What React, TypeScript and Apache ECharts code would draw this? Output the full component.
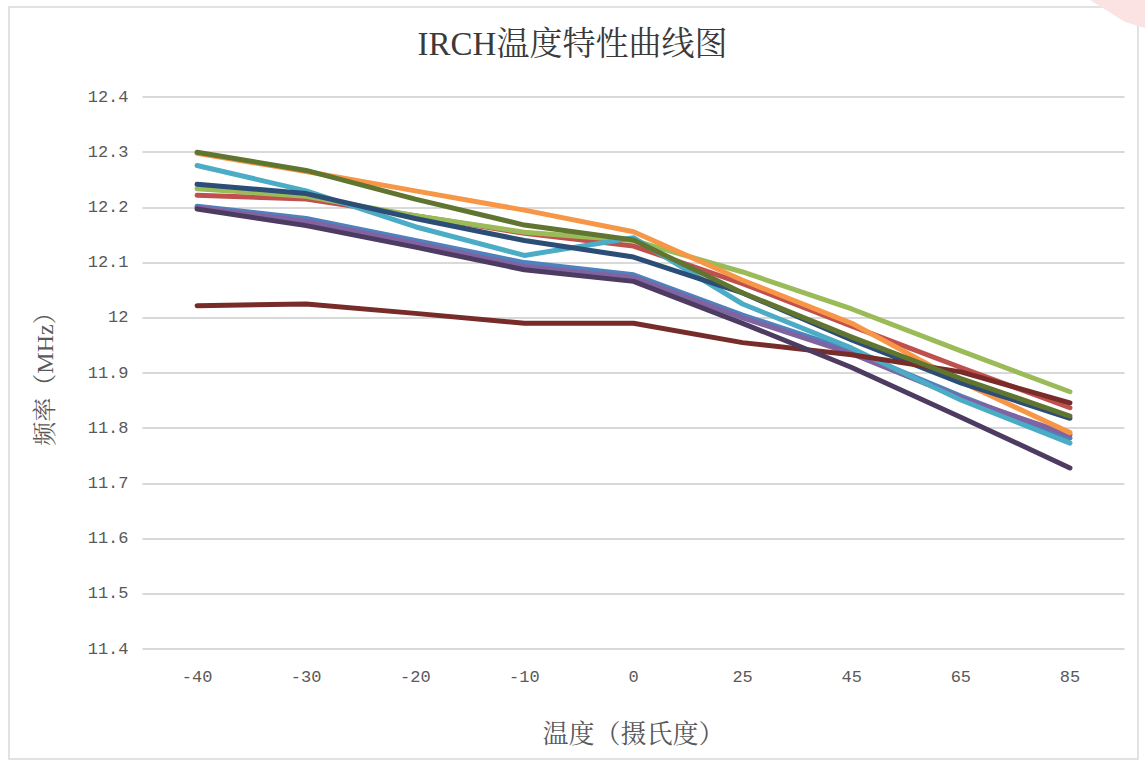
import React, { useEffect, useRef } from "react";
import * as echarts from "echarts";

const categories = ["-40", "-30", "-20", "-10", "0", "25", "45", "65", "85"];
const yTicks = { min: 11.4, max: 12.4, interval: 0.1 };

const seriesNames = ["1", "2", "3", "4", "5", "6", "7", "8", "9", "10"];
const blue = [12.202, 12.18, 12.14, 12.1, 12.078, 12.005, 11.94, 11.858, 11.782];
const red = [12.222, 12.215, 12.185, 12.153, 12.13, 12.062, 11.985, 11.91, 11.837];
const lightGreen = [12.234, 12.22, 12.185, 12.155, 12.14, 12.083, 12.016, 11.94, 11.866];
const purple = [12.2, 12.175, 12.135, 12.093, 12.073, 12.0, 11.935, 11.855, 11.788];
const aqua = [12.276, 12.23, 12.165, 12.113, 12.145, 12.025, 11.945, 11.851, 11.773];
const orange = [12.298, 12.265, 12.23, 12.195, 12.156, 12.068, 11.99, 11.884, 11.792];
const darkBlue = [12.242, 12.225, 12.18, 12.14, 12.11, 12.045, 11.96, 11.882, 11.818];
const darkRed = [12.022, 12.025, 12.008, 11.99, 11.99, 11.955, 11.933, 11.902, 11.846];
const darkGreen = [12.3, 12.267, 12.215, 12.168, 12.141, 12.045, 11.965, 11.89, 11.822];
const darkPurple = [12.197, 12.167, 12.128, 12.087, 12.066, 11.99, 11.91, 11.82, 11.728];

const seriesData = [blue, red, lightGreen, purple, aqua, orange, darkBlue, darkRed, darkGreen, darkPurple];
const colors = ["#4F81BD", "#C0504D", "#9BBB59", "#8064A2", "#4BACC6", "#F79646", "#2C4D75", "#772C2A", "#5F7530", "#4D3B62"];

const titleText = "IRCH温度特性曲线图";
const xName = "温度（摄氏度）";
const yName = "频率（MHz）";

export default function App() {
  const ref = useRef<HTMLDivElement>(null);
  useEffect(() => {
    if (!ref.current) return;
    const chart = echarts.init(ref.current, null, { renderer: "svg" });
    const mono = "'Liberation Mono', 'Noto Sans CJK SC', monospace";
    const serif = "'Liberation Serif', 'Noto Serif CJK SC', 'Noto Sans CJK SC', serif";
    chart.setOption({
      animation: false,
      backgroundColor: "#ffffff",
      title: {
        text: titleText,
        left: "center",
        top: 22,
        textStyle: { fontFamily: serif, fontSize: 33, fontWeight: "normal", color: "#3a3a3a" },
      },
      grid: { left: 142.5, right: 20.5, top: 97, bottom: 115 },
      xAxis: {
        type: "category",
        data: categories,
        boundaryGap: true,
        name: xName,
        nameLocation: "middle",
        nameGap: 72,
        nameTextStyle: { fontFamily: serif, fontSize: 26, color: "#595959" },
        axisLine: { show: false },
        axisTick: { show: false },
        axisLabel: { fontFamily: mono, fontSize: 17, color: "#595959", margin: 20 },
      },
      yAxis: {
        type: "value",
        min: yTicks.min,
        max: yTicks.max,
        interval: yTicks.interval,
        name: yName,
        nameLocation: "middle",
        nameGap: 86,
        nameRotate: 90,
        nameTextStyle: { fontFamily: serif, fontSize: 24, color: "#595959" },
        axisLine: { show: false },
        axisTick: { show: false },
        splitLine: { lineStyle: { color: "#d9d9d9", width: 2 } },
        axisLabel: {
          fontFamily: mono,
          fontSize: 17,
          color: "#595959",
          margin: 14,
          formatter: (v: number) => {
            const r = Math.round(v * 10) / 10;
            return r === 12 ? "12" : r.toFixed(1);
          },
        },
      },
      graphic: [
        {
          type: "rect",
          shape: { x: 9, y: 7, width: 1129, height: 752 },
          style: { fill: "none", stroke: "#d9d9d9", lineWidth: 1.5 },
          silent: true,
        },
        {
          type: "polygon",
          shape: { points: [[1090, 0], [1145, 0], [1145, 28], [1125, 22]] },
          style: { fill: "#fbe3e3" },
          silent: true,
        },
      ],
      series: seriesData.map((d, i) => ({
        name: seriesNames[i],
        type: "line",
        data: d,
        symbol: "none",
        smooth: false,
        lineStyle: { color: colors[i], width: 5, cap: "round", join: "round" },
        itemStyle: { color: colors[i] },
      })),
    });
    return () => chart.dispose();
  }, []);
  return (
    <div
      ref={ref}
      style={{ position: "absolute", left: 0, top: 0, width: 1145, height: 764 }}
    />
  );
}
